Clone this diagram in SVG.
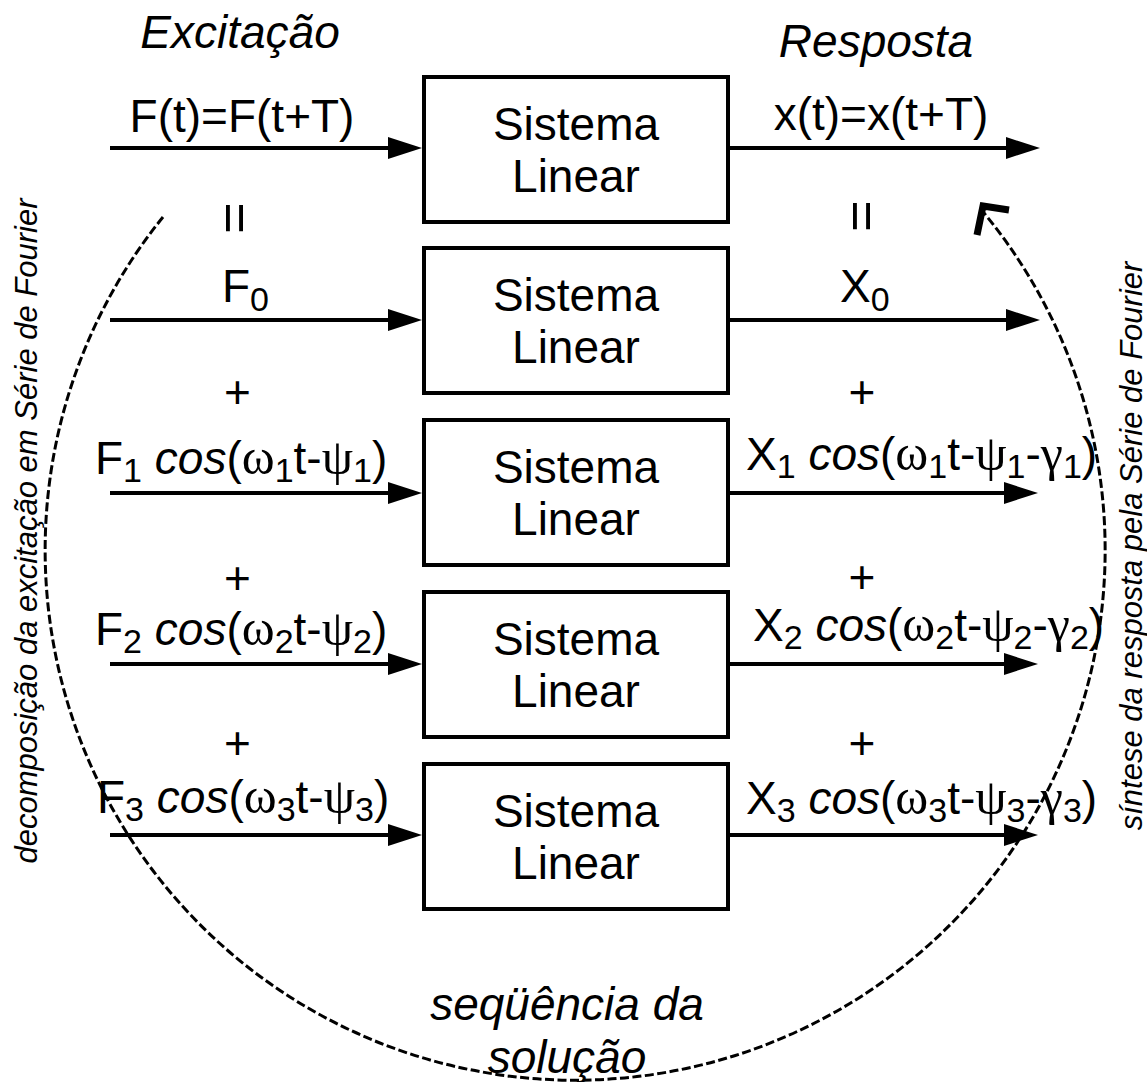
<svg xmlns="http://www.w3.org/2000/svg" width="1147" height="1082" viewBox="0 0 1147 1082">
<style>
text{font-family:"Liberation Sans",Arial,sans-serif;font-size:46px;fill:#000}
.it{font-style:italic}
.sub{font-size:34px}
.gr{font-family:"Liberation Serif","Times New Roman",serif;font-size:50px}
.mid{text-anchor:middle}
.eq{font-size:54px;text-anchor:middle}
.side{font-size:31px;font-style:italic;text-anchor:middle}
.box{fill:#fff;stroke:#000;stroke-width:4}
.conn{stroke:#000;stroke-width:4;fill:none}
.dash{stroke:#000;stroke-width:3;fill:none;stroke-dasharray:9 3.5}
</style>
<defs>
<marker id="ah" markerUnits="userSpaceOnUse" markerWidth="34" markerHeight="22" refX="14" refY="11" orient="auto">
<path d="M0,0 L34,11 L0,22 z" fill="#000"/>
</marker>
</defs>
<rect width="1147" height="1082" fill="#fff"/>

<g id="connectors">
<line class="conn" x1="110" y1="148" x2="402" y2="148" marker-end="url(#ah)"/>
<line class="conn" x1="728" y1="148" x2="1020" y2="148" marker-end="url(#ah)"/>
<line class="conn" x1="110" y1="320" x2="402" y2="320" marker-end="url(#ah)"/>
<line class="conn" x1="728" y1="320" x2="1020" y2="320" marker-end="url(#ah)"/>
<line class="conn" x1="110" y1="493" x2="402" y2="493" marker-end="url(#ah)"/>
<line class="conn" x1="728" y1="493" x2="1018" y2="493" marker-end="url(#ah)"/>
<line class="conn" x1="110" y1="664" x2="402" y2="664" marker-end="url(#ah)"/>
<line class="conn" x1="728" y1="664" x2="1018" y2="664" marker-end="url(#ah)"/>
<line class="conn" x1="110" y1="835" x2="402" y2="835" marker-end="url(#ah)"/>
<line class="conn" x1="728" y1="835" x2="1018" y2="835" marker-end="url(#ah)"/>
<path class="dash" d="M163 217 A530 530 0 1 0 979 207"/>
<polyline points="977,235 983,206 1009,210" fill="none" stroke="#000" stroke-width="7"/>
</g>

<g id="node1">
<rect class="box" x="424" y="77" width="304" height="145"/>
<text class="mid" x="576" y="140">Sistema</text>
<text class="mid" x="576" y="192">Linear</text>
</g>
<g id="node2">
<rect class="box" x="424" y="248" width="304" height="145"/>
<text class="mid" x="576" y="311">Sistema</text>
<text class="mid" x="576" y="363">Linear</text>
</g>
<g id="node3">
<rect class="box" x="424" y="420" width="304" height="145"/>
<text class="mid" x="576" y="483">Sistema</text>
<text class="mid" x="576" y="535">Linear</text>
</g>
<g id="node4">
<rect class="box" x="424" y="592" width="304" height="145"/>
<text class="mid" x="576" y="655">Sistema</text>
<text class="mid" x="576" y="707">Linear</text>
</g>
<g id="node5">
<rect class="box" x="424" y="764" width="304" height="145"/>
<text class="mid" x="576" y="827">Sistema</text>
<text class="mid" x="576" y="879">Linear</text>
</g>

<g id="labels">
<text class="it mid" x="240" y="48">Excitação</text>
<text class="it mid" x="876" y="57">Resposta</text>
<text class="mid" x="242" y="132">F(t)=F(t+T)</text>
<text class="mid" x="881" y="130">x(t)=x(t+T)</text>

<text class="eq" x="235.5" y="237" transform="rotate(90 235.5 218)">=</text>
<text class="eq" x="862.5" y="235" transform="rotate(90 862.5 216)">=</text>

<text x="222" y="302">F<tspan class="sub" dy="9">0</tspan></text>
<text x="840" y="302">X<tspan class="sub" dy="9">0</tspan></text>

<text class="mid" x="237.5" y="408">+</text>
<text class="mid" x="862" y="408">+</text>
<text class="mid" x="237.5" y="594">+</text>
<text class="mid" x="862" y="593">+</text>
<text class="mid" x="237.5" y="759">+</text>
<text class="mid" x="862" y="759">+</text>

<text x="95" y="474">F<tspan class="sub" dy="8">1</tspan><tspan dy="-8"> </tspan><tspan class="it">cos</tspan>(<tspan class="gr">ω</tspan><tspan class="sub" dy="8">1</tspan><tspan dy="-8">t-</tspan><tspan class="gr">ψ</tspan><tspan class="sub" dy="8">1</tspan><tspan dy="-8">)</tspan></text>
<text x="95" y="645">F<tspan class="sub" dy="8">2</tspan><tspan dy="-8"> </tspan><tspan class="it">cos</tspan>(<tspan class="gr">ω</tspan><tspan class="sub" dy="8">2</tspan><tspan dy="-8">t-</tspan><tspan class="gr">ψ</tspan><tspan class="sub" dy="8">2</tspan><tspan dy="-8">)</tspan></text>
<text x="97" y="813">F<tspan class="sub" dy="8">3</tspan><tspan dy="-8"> </tspan><tspan class="it">cos</tspan>(<tspan class="gr">ω</tspan><tspan class="sub" dy="8">3</tspan><tspan dy="-8">t-</tspan><tspan class="gr">ψ</tspan><tspan class="sub" dy="8">3</tspan><tspan dy="-8">)</tspan></text>

<text x="746" y="470">X<tspan class="sub" dy="8">1</tspan><tspan dy="-8"> </tspan><tspan class="it">cos</tspan>(<tspan class="gr">ω</tspan><tspan class="sub" dy="8">1</tspan><tspan dy="-8">t-</tspan><tspan class="gr">ψ</tspan><tspan class="sub" dy="8">1</tspan><tspan dy="-8">-</tspan><tspan class="gr">γ</tspan><tspan class="sub" dy="8">1</tspan><tspan dy="-8">)</tspan></text>
<text x="753" y="641">X<tspan class="sub" dy="8">2</tspan><tspan dy="-8"> </tspan><tspan class="it">cos</tspan>(<tspan class="gr">ω</tspan><tspan class="sub" dy="8">2</tspan><tspan dy="-8">t-</tspan><tspan class="gr">ψ</tspan><tspan class="sub" dy="8">2</tspan><tspan dy="-8">-</tspan><tspan class="gr">γ</tspan><tspan class="sub" dy="8">2</tspan><tspan dy="-8">)</tspan></text>
<text x="746" y="814">X<tspan class="sub" dy="8">3</tspan><tspan dy="-8"> </tspan><tspan class="it">cos</tspan>(<tspan class="gr">ω</tspan><tspan class="sub" dy="8">3</tspan><tspan dy="-8">t-</tspan><tspan class="gr">ψ</tspan><tspan class="sub" dy="8">3</tspan><tspan dy="-8">-</tspan><tspan class="gr">γ</tspan><tspan class="sub" dy="8">3</tspan><tspan dy="-8">)</tspan></text>

<text class="side" x="37" y="531" transform="rotate(-90 37 531)">decomposição da excitação em Série de Fourier</text>
<text class="side" x="1142" y="546" transform="rotate(-90 1142 546)">síntese da resposta pela Série de Fourier</text>

<text class="it mid" x="567" y="1020">seqüência da</text>
<text class="it mid" x="567" y="1073">solução</text>
</g>
</svg>
